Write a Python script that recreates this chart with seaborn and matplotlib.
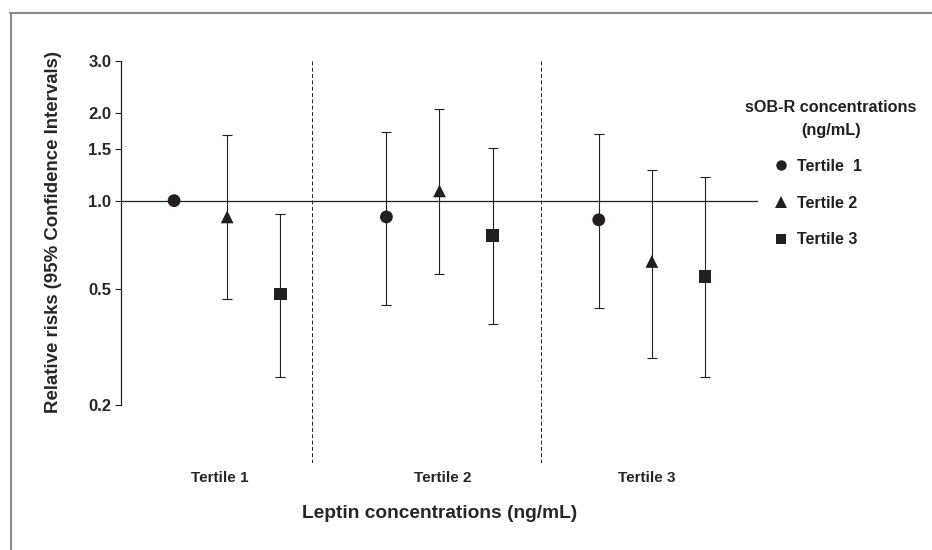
import numpy as np
import pandas as pd
import seaborn as sns
import matplotlib.pyplot as plt
from matplotlib.lines import Line2D

# leptin tertiles (x groups) and sOB-R tertiles (series)
leptin_groups = ["Tertile 1", "Tertile 2", "Tertile 3"]
sobr_groups = ["Tertile  1", "Tertile 2", "Tertile 3"]

# relative risks and 95% CI, one list per sOB-R tertile, across leptin tertiles
rr_sobr1 = [1.00, 0.88, 0.86]
lo_sobr1 = [np.nan, 0.44, 0.43]
hi_sobr1 = [np.nan, 1.71, 1.69]

rr_sobr2 = [0.88, 1.08, 0.62]
lo_sobr2 = [0.46, 0.56, 0.29]
hi_sobr2 = [1.68, 2.05, 1.27]

rr_sobr3 = [0.48, 0.76, 0.55]
lo_sobr3 = [0.25, 0.38, 0.25]
hi_sobr3 = [0.90, 1.51, 1.20]

y_ticks = [0.2, 0.5, 1.0, 1.5, 2.0, 3.0]

ink = "#231f20"

rows = []
for s, (rr, lo, hi) in enumerate([(rr_sobr1, lo_sobr1, hi_sobr1),
                                  (rr_sobr2, lo_sobr2, hi_sobr2),
                                  (rr_sobr3, lo_sobr3, hi_sobr3)]):
    for g in range(len(leptin_groups)):
        rows.append({"leptin": leptin_groups[g], "sobr": sobr_groups[s],
                     "x": g + (s - 1) * 0.25, "rr": rr[g], "lo": lo[g], "hi": hi[g]})
df = pd.DataFrame(rows)

sns.set_theme(style="white")
plt.rcParams["font.family"] = ["Liberation Sans", "DejaVu Sans"]
plt.rcParams["font.weight"] = "bold"
plt.rcParams["text.color"] = ink

fig = plt.figure(figsize=(9.32, 5.5), dpi=100)
ax = fig.add_axes([121 / 932, 87 / 550, 637 / 932, 402 / 550])

# reference line and group dividers
ax.axhline(1.0, color=ink, lw=0.9, zorder=1)
for xd in [0.4, 1.48]:
    ax.axvline(xd, color=ink, lw=0.7, ls=(0, (4, 2.5)), zorder=1)

# confidence intervals
ok = df["lo"].notna()
ax.errorbar(df.loc[ok, "x"], df.loc[ok, "rr"],
            yerr=[df.loc[ok, "rr"] - df.loc[ok, "lo"], df.loc[ok, "hi"] - df.loc[ok, "rr"]],
            fmt="none", ecolor=ink, elinewidth=0.8, capsize=3.4, capthick=0.8, zorder=2)

markers = {sobr_groups[0]: "o", sobr_groups[1]: "^", sobr_groups[2]: "s"}
sns.scatterplot(data=df, x="x", y="rr", style="sobr", markers=markers,
                color=ink, s=85, linewidth=0, legend=False, zorder=3, ax=ax)

ax.set_yscale("log")
ax.set_xlim(-0.5, 2.5)
ax.set_ylim(0.127, 3.0)
ax.set_yticks(y_ticks)
ax.set_yticklabels([f"{v:.1f}" for v in y_ticks], fontsize=12, fontweight="bold")
ax.yaxis.set_minor_locator(plt.NullLocator())
ax.tick_params(axis="y", left=True, length=4, width=0.8, color=ink, pad=3)

ax.set_xticks([-0.033, 1.017, 1.978])
ax.set_xticklabels(leptin_groups, fontsize=11, fontweight="bold")
ax.tick_params(axis="x", bottom=False, length=0, pad=6)

for side in ["top", "right", "bottom"]:
    ax.spines[side].set_visible(False)
ax.spines["left"].set_bounds(0.2, 3.0)
ax.spines["left"].set_color(ink)
ax.spines["left"].set_linewidth(0.9)

ax.set_xlabel("Leptin concentrations (ng/mL)", fontsize=13.8, fontweight="bold")
ax.xaxis.set_label_coords(0.5, -0.105)
ax.set_ylabel("Relative risks (95% Confidence Intervals)", fontsize=13.4, fontweight="bold")
ax.yaxis.set_label_coords(-0.093, 0.575)

# legend
fig.text(831 / 932, 1 - 119 / 550, "sOB-R concentrations\n(ng/mL)", ha="center", va="center",
         fontsize=11.7, fontweight="bold", linespacing=1.6)
handles = [Line2D([], [], ls="none", marker=markers[k], color=ink, markersize=ms, markeredgewidth=0)
           for k, ms in zip(sobr_groups, [7.5, 8, 6.5])]
leg = ax.legend(handles, sobr_groups, loc="upper left", bbox_to_anchor=(773 / 932, 1 - 159 / 550),
                bbox_transform=fig.transFigure, frameon=False, fontsize=11.5, handlelength=1,
                handletextpad=0.5, borderpad=0, borderaxespad=0, labelspacing=1.35)
for t in leg.get_texts():
    t.set_fontweight("bold")

# grey frame on top and left edges
fig.add_artist(Line2D([10 / 932, 1], [1 - 13 / 550, 1 - 13 / 550], transform=fig.transFigure,
                      color="#8a8a8a", lw=1.5))
fig.add_artist(Line2D([11 / 932, 11 / 932], [0, 1 - 13 / 550], transform=fig.transFigure,
                      color="#8a8a8a", lw=1.5))

fig.savefig("out.png", dpi=100)
